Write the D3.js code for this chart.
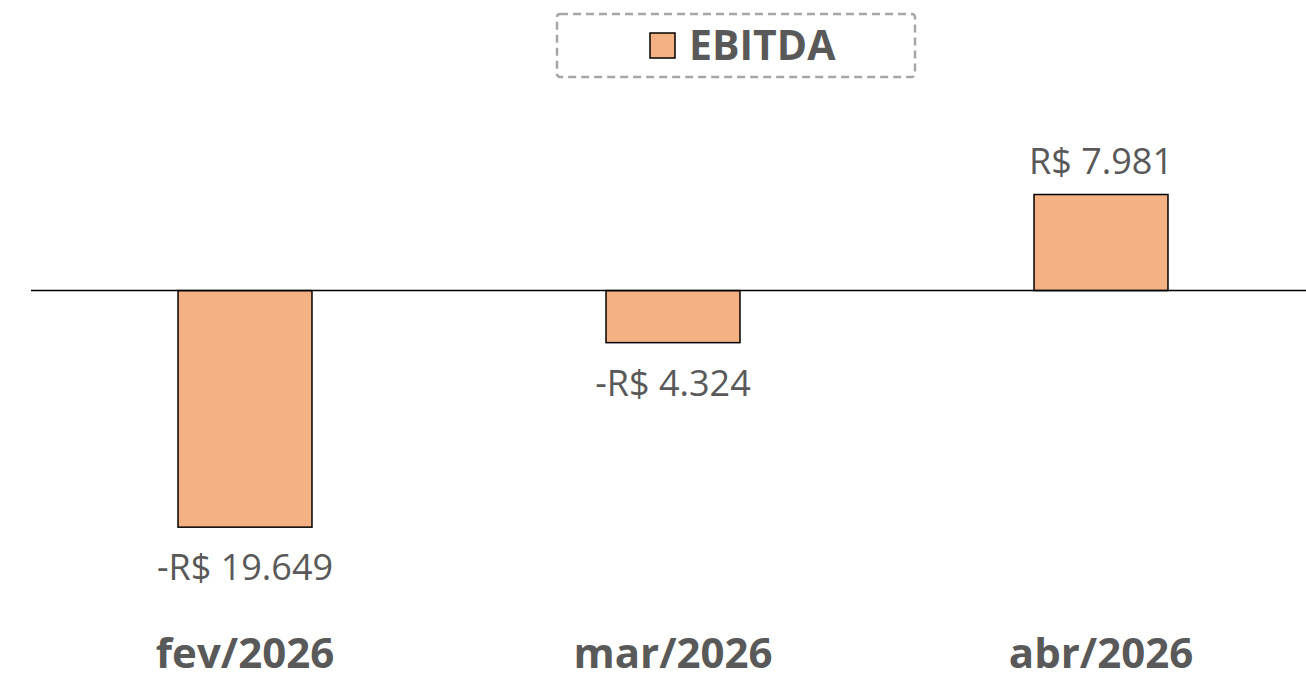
<!DOCTYPE html>
<html>
<head>
<meta charset="utf-8">
<script src="https://cdn.jsdelivr.net/npm/d3@7"></script>
<style>
  html, body { margin: 0; padding: 0; background: #fff; }
  svg { display: block; }
  text { font-family: "Open Sans", "Noto Sans", sans-serif; }
</style>
</head>
<body>
<svg id="chart" width="1306" height="679"></svg>
<script>
const categories = ["fev/2026", "mar/2026", "abr/2026"];
const ebitda = [-19649, -4324, 7981];
const labels = ["-R$ 19.649", "-R$ 4.324", "R$ 7.981"];
const seriesName = "EBITDA";

const svg = d3.select("#chart");
const W = 1306, H = 679;
const fill = "#F4B183";
const textColor = "#595959";

const x = d3.scaleBand().domain(categories).range([31, 1315]).paddingInner(0.687).paddingOuter(0.687 / 2);
const y = d3.scaleLinear().domain([-25700, 15000]).range([600, 110]);

const data = categories.map((c, i) => ({ c, v: ebitda[i], l: labels[i] }));

// bars
svg.append("g").selectAll("rect").data(data).join("rect")
  .attr("x", d => x(d.c))
  .attr("y", d => y(Math.max(0, d.v)))
  .attr("width", x.bandwidth())
  .attr("height", d => Math.abs(y(d.v) - y(0)))
  .attr("fill", fill)
  .attr("stroke", "#000")
  .attr("stroke-width", 1.5);

// zero line
svg.append("line")
  .attr("x1", 31).attr("x2", W)
  .attr("y1", y(0)).attr("y2", y(0))
  .attr("stroke", "#000").attr("stroke-width", 1.5);

// data labels
svg.append("g").selectAll("text").data(data).join("text")
  .attr("x", d => x(d.c) + x.bandwidth() / 2)
  .attr("y", d => d.v >= 0 ? y(d.v) - 21 : y(d.v) + 53)
  .attr("text-anchor", "middle")
  .attr("font-size", 36)
  .attr("fill", textColor)
  .text(d => d.l);

// category axis labels
const xAxis = svg.append("g").attr("transform", "translate(0,668)")
  .call(d3.axisBottom(x).tickSize(0).tickPadding(0));
xAxis.select(".domain").remove();
xAxis.selectAll("text")
  .attr("dy", 0)
  .attr("y", 0)
  .attr("font-family", "Open Sans, Noto Sans, sans-serif")
  .attr("font-size", 42)
  .attr("font-weight", "bold")
  .attr("fill", textColor);

// legend
const lg = svg.append("g");
lg.append("rect")
  .attr("x", 557).attr("y", 14).attr("width", 358).attr("height", 63)
  .attr("rx", 3)
  .attr("fill", "none")
  .attr("stroke", "#A6A6A6")
  .attr("stroke-width", 2.5)
  .attr("stroke-dasharray", "8,5");
lg.append("rect")
  .attr("x", 650).attr("y", 33).attr("width", 25).attr("height", 25)
  .attr("fill", fill).attr("stroke", "#000").attr("stroke-width", 1.5);
lg.append("text")
  .attr("x", 689).attr("y", 60)
  .attr("font-size", 41)
  .attr("font-weight", "bold")
  .attr("fill", textColor)
  .text(seriesName);
</script>
</body>
</html>
